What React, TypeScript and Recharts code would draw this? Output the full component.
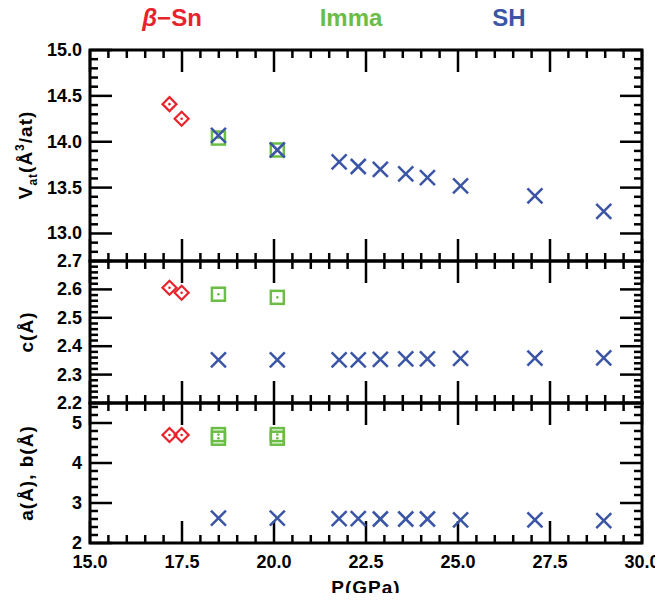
import { ScatterChart, Scatter, XAxis, YAxis, ReferenceArea } from 'recharts'

const RED = '#e8232b'
const GREEN = '#6bbd45'
const BLUE = '#3b55a5'
const FONT = '"Liberation Sans", Arial, sans-serif'

// beta-Sn
const SN_P = [17.16, 17.49]
const SN_V = [14.41, 14.25]
const SN_C = [2.606, 2.588]
const SN_A = [4.7, 4.7]

// Imma
const IMMA_P = [18.49, 20.09]
const IMMA_V = [14.04, 13.91]
const IMMA_C = [2.583, 2.572]
const IMMA_A = [4.62, 4.62]
const IMMA_B = [4.71, 4.71]

// SH
const SH_P = [18.49, 20.09, 21.77, 22.29, 22.89, 23.58, 24.17, 25.07, 27.09, 28.96]
const SH_V = [14.07, 13.91, 13.78, 13.73, 13.7, 13.65, 13.61, 13.52, 13.41, 13.24]
const SH_C = [2.352, 2.352, 2.352, 2.352, 2.354, 2.355, 2.355, 2.357, 2.358, 2.359]
const SH_A = [2.62, 2.62, 2.61, 2.61, 2.6, 2.6, 2.6, 2.58, 2.58, 2.56]

// axes
const X_DOMAIN = [15, 30]
const X_MAJOR = [15, 17.5, 20, 22.5, 25, 27.5, 30]
const V_DOMAIN = [12.7, 15]
const V_MAJOR = [13, 13.5, 14, 14.5, 15]
const C_DOMAIN = [2.2, 2.7]
const C_MAJOR = [2.2, 2.3, 2.4, 2.5, 2.6, 2.7]
const A_DOMAIN = [2, 5.5]
const A_MAJOR = [2, 3, 4, 5]

const range = (from: number, to: number, step: number) =>
  Array.from({ length: Math.round((to - from) / step) + 1 }, (_, i) => +(from + i * step).toFixed(4))

const X_TICKS = range(15, 30, 0.5)
const V_TICKS = range(12.8, 15, 0.1)
const C_TICKS = range(2.2, 2.7, 0.02)
const A_TICKS = range(2, 5.4, 0.2)

const pts = (p: number[], v: number[]) => p.map((x, i) => ({ p: x, v: v[i] }))

const labelText = { fontFamily: FONT, fontWeight: 700, fontSize: 18, fill: '#000' }

const isMajor = (majors: number[]) => (v: number) => majors.some((m) => Math.abs(m - v) < 1e-6)
const xMajor = isMajor(X_MAJOR)

const Diamond = (props: any) => {
  const { cx, cy } = props
  return (
    <g>
      <polygon
        points={`${cx},${cy - 7} ${cx + 7},${cy} ${cx},${cy + 7} ${cx - 7},${cy}`}
        fill="none"
        stroke={RED}
        strokeWidth={2.2}
      />
      <circle cx={cx} cy={cy} r={1.3} fill={RED} />
    </g>
  )
}

const Square = (props: any) => {
  const { cx, cy } = props
  return (
    <g>
      <rect x={cx - 6.5} y={cy - 6.5} width={13} height={13} fill="none" stroke={GREEN} strokeWidth={2.5} />
      <circle cx={cx} cy={cy} r={1.3} fill={GREEN} />
    </g>
  )
}

const Cross = (props: any) => {
  const { cx, cy } = props
  return (
    <g stroke={BLUE} strokeWidth={2.5}>
      <line x1={cx - 7.5} y1={cy - 7.5} x2={cx + 7.5} y2={cy + 7.5} />
      <line x1={cx - 7.5} y1={cy + 7.5} x2={cx + 7.5} y2={cy - 7.5} />
    </g>
  )
}

// inward tick marks drawn at points on the frame
const BottomMaj = (p: any) => (
  <g stroke="#000" strokeWidth={2.5}>
    <line x1={p.cx} y1={p.cy} x2={p.cx} y2={p.cy - 22} />
  </g>
)
const BottomMin = (p: any) => (
  <g stroke="#000" strokeWidth={2.5}>
    <line x1={p.cx} y1={p.cy} x2={p.cx} y2={p.cy - 8} />
  </g>
)
const TopMaj = (p: any) => (
  <g stroke="#000" strokeWidth={2.5}>
    <line x1={p.cx} y1={p.cy} x2={p.cx} y2={p.cy + 22} />
  </g>
)
const TopMin = (p: any) => (
  <g stroke="#000" strokeWidth={2.5}>
    <line x1={p.cx} y1={p.cy} x2={p.cx} y2={p.cy + 8} />
  </g>
)
const LeftMaj = (p: any) => (
  <g stroke="#000" strokeWidth={2.5}>
    <line x1={p.cx} y1={p.cy} x2={p.cx + 22} y2={p.cy} />
  </g>
)
const LeftMin = (p: any) => (
  <g stroke="#000" strokeWidth={2.5}>
    <line x1={p.cx} y1={p.cy} x2={p.cx + 8} y2={p.cy} />
  </g>
)
const RightMaj = (p: any) => (
  <g stroke="#000" strokeWidth={2.5}>
    <line x1={p.cx} y1={p.cy} x2={p.cx - 22} y2={p.cy} />
  </g>
)
const RightMin = (p: any) => (
  <g stroke="#000" strokeWidth={2.5}>
    <line x1={p.cx} y1={p.cy} x2={p.cx - 8} y2={p.cy} />
  </g>
)

// tick label renderers
const xLabel = (labels: boolean) => (props: any) => {
  const v = props.payload.value
  if (!labels || !xMajor(v)) return <g />
  return (
    <text x={props.x} y={Number(props.y) + 19} textAnchor="middle" dominantBaseline="central" {...labelText}>
      {v.toFixed(1)}
    </text>
  )
}

const yLabel = (majors: number[], digits: number) => (props: any) => {
  const v = props.payload.value
  if (!isMajor(majors)(v)) return <g />
  return (
    <text x={Number(props.x) - 8} y={props.y} textAnchor="end" dominantBaseline="central" {...labelText}>
      {v.toFixed(digits)}
    </text>
  )
}

interface PanelProps {
  top: number
  height: number
  margin: { top: number; bottom: number }
  xAxisHeight: number
  showXLabels: boolean
  yDomain: number[]
  yTicks: number[]
  yMajor: number[]
  digits: number
  series: { data: { p: number; v: number }[]; shape: any }[]
}

function Panel(props: PanelProps) {
  const yMaj = isMajor(props.yMajor)
  const [yLo, yHi] = props.yDomain
  const [xLo, xHi] = X_DOMAIN
  const xMajT = X_TICKS.filter(xMajor)
  const xMinT = X_TICKS.filter((t) => !xMajor(t))
  const yMajT = props.yTicks.filter(yMaj)
  const yMinT = props.yTicks.filter((t) => !yMaj(t))
  const frameTicks = [
    { data: xMajT.map((t) => ({ p: t, v: yLo })), shape: BottomMaj },
    { data: xMinT.map((t) => ({ p: t, v: yLo })), shape: BottomMin },
    { data: xMajT.map((t) => ({ p: t, v: yHi })), shape: TopMaj },
    { data: xMinT.map((t) => ({ p: t, v: yHi })), shape: TopMin },
    { data: yMajT.map((t) => ({ p: xLo, v: t })), shape: LeftMaj },
    { data: yMinT.map((t) => ({ p: xLo, v: t })), shape: LeftMin },
    { data: yMajT.map((t) => ({ p: xHi, v: t })), shape: RightMaj },
    { data: yMinT.map((t) => ({ p: xHi, v: t })), shape: RightMin },
  ]
  return (
    <div style={{ position: 'absolute', left: 0, top: props.top, width: 663, height: props.height }}>
      <ScatterChart
        width={663}
        height={props.height}
        margin={{ top: props.margin.top, bottom: props.margin.bottom, left: 0, right: 21 }}
      >
        <XAxis
          dataKey="p"
          type="number"
          domain={X_DOMAIN}
          ticks={X_TICKS}
          interval={0}
          height={props.xAxisHeight}
          tickSize={0}
          tickMargin={0}
          tickLine={false}
          axisLine={false}
          tick={xLabel(props.showXLabels)}
        />
        <YAxis
          dataKey="v"
          type="number"
          domain={props.yDomain}
          ticks={props.yTicks}
          interval={0}
          width={90}
          tickSize={0}
          tickMargin={0}
          tickLine={false}
          axisLine={false}
          tick={yLabel(props.yMajor, props.digits)}
        />
        <ReferenceArea
          x1={xLo}
          x2={xHi}
          y1={yLo}
          y2={yHi}
          fill="none"
          fillOpacity={0}
          stroke="black"
          strokeWidth={3}
          strokeOpacity={1}
        />
        {frameTicks.map((s, i) => (
          <Scatter key={`t${i}`} data={s.data} shape={s.shape} isAnimationActive={false} />
        ))}
        {props.series.map((s, i) => (
          <Scatter key={i} data={s.data} shape={s.shape} isAnimationActive={false} />
        ))}
      </ScatterChart>
    </div>
  )
}

const textStyle = (left: number, top: number, rotate: boolean, extra: React.CSSProperties = {}): React.CSSProperties => ({
  position: 'absolute',
  left,
  top,
  transform: `translate(-50%, -50%)${rotate ? ' rotate(-90deg)' : ''}`,
  fontFamily: FONT,
  fontWeight: 700,
  fontSize: 19,
  whiteSpace: 'nowrap',
  lineHeight: 1,
  letterSpacing: 1,
  ...extra,
})

const legend = (left: number, color: string) => textStyle(left, 18, false, { color, fontSize: 24, letterSpacing: 0 })
const sub = { fontSize: 12, verticalAlign: -5 }
const sup = { fontSize: 12, verticalAlign: 8 }

export default function App() {
  return (
    <div style={{ position: 'relative', margin: -8, width: 663, height: 601, background: '#fff' }}>
      <span style={legend(172, RED)}>
        <i>β</i>−Sn
      </span>
      <span style={legend(351, GREEN)}>Imma</span>
      <span style={legend(509, BLUE)}>SH</span>

      <Panel
        top={0}
        height={270}
        margin={{ top: 50, bottom: 8 }}
        xAxisHeight={1}
        showXLabels={false}
        yDomain={V_DOMAIN}
        yTicks={V_TICKS}
        yMajor={V_MAJOR}
        digits={1}
        series={[
          { data: pts(SN_P, SN_V), shape: Diamond },
          { data: pts(IMMA_P, IMMA_V), shape: Square },
          { data: pts(SH_P, SH_V), shape: Cross },
        ]}
      />
      <Panel
        top={251}
        height={162}
        margin={{ top: 10, bottom: 9 }}
        xAxisHeight={1}
        showXLabels={false}
        yDomain={C_DOMAIN}
        yTicks={C_TICKS}
        yMajor={C_MAJOR}
        digits={1}
        series={[
          { data: pts(SN_P, SN_C), shape: Diamond },
          { data: pts(IMMA_P, IMMA_C), shape: Square },
          { data: pts(SH_P, SH_C), shape: Cross },
        ]}
      />
      <Panel
        top={393}
        height={208}
        margin={{ top: 10, bottom: 0 }}
        xAxisHeight={58}
        showXLabels={true}
        yDomain={A_DOMAIN}
        yTicks={A_TICKS}
        yMajor={A_MAJOR}
        digits={0}
        series={[
          { data: pts(SN_P, SN_A), shape: Diamond },
          { data: pts(IMMA_P, IMMA_A), shape: Square },
          { data: pts(IMMA_P, IMMA_B), shape: Square },
          { data: pts(SH_P, SH_A), shape: Cross },
        ]}
      />

      <span style={textStyle(26, 155, true)}>
        V<span style={sub}>at</span>(Å<span style={sup}>3</span>/at)
      </span>
      <span style={textStyle(26, 332, true)}>c(Å)</span>
      <span style={textStyle(26, 473, true)}>a(Å), b(Å)</span>
      <span style={textStyle(366, 587, false)}>P(GPa)</span>
    </div>
  )
}
